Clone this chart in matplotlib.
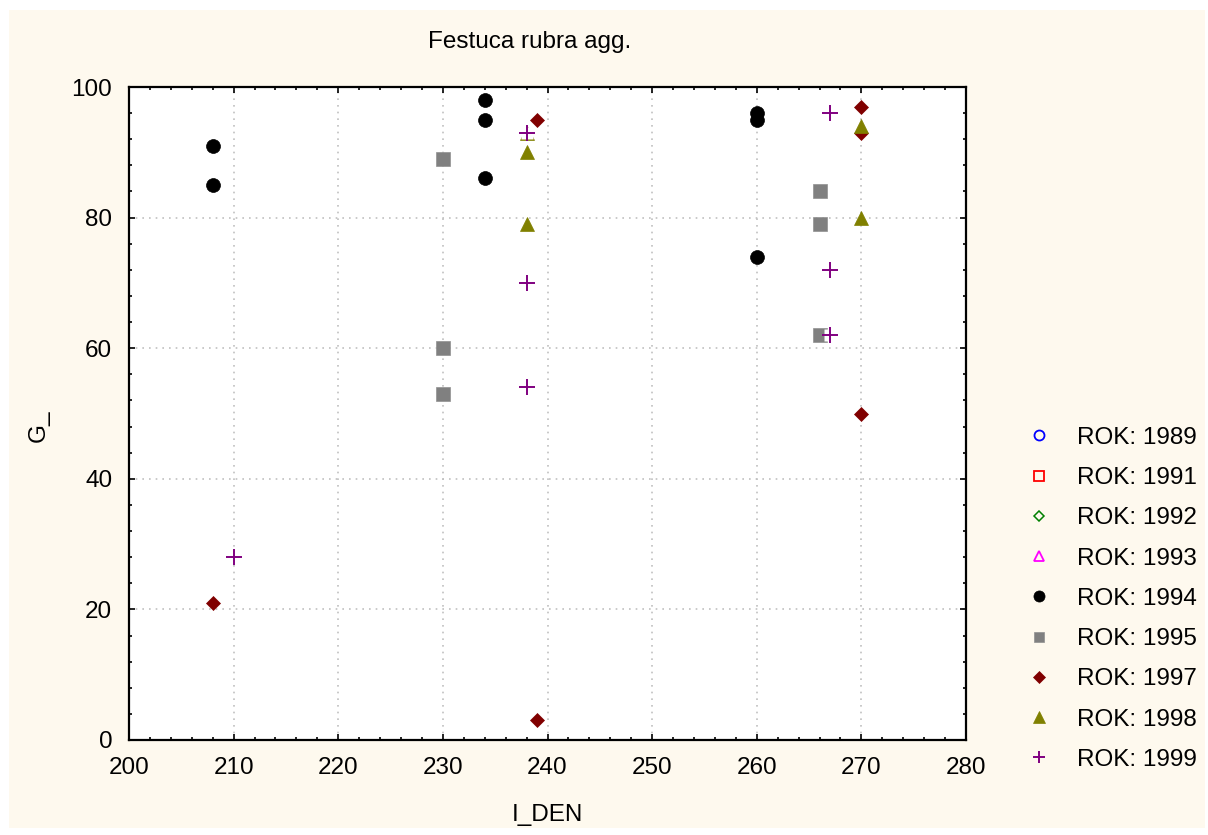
import matplotlib
matplotlib.use("Agg")
import matplotlib.pyplot as plt
from matplotlib.patches import Rectangle
from matplotlib.ticker import MultipleLocator

plt.rcParams['font.family'] = ['Liberation Sans', 'DejaVu Sans']

# Series: (I_DEN, G_) per year
x_1989, y_1989 = [], []
x_1991, y_1991 = [], []
x_1992, y_1992 = [], []
x_1993, y_1993 = [], []
x_1994 = [208, 208, 234, 234, 234, 260, 260, 260]
y_1994 = [91, 85, 98, 95, 86, 96, 95, 74]
x_1995 = [230, 230, 230, 266, 266, 266]
y_1995 = [89, 60, 53, 84, 79, 62]
x_1997 = [208, 239, 239, 270, 270, 270]
y_1997 = [21, 95, 3, 97, 93, 50]
x_1998 = [238, 238, 238, 270, 270]
y_1998 = [93, 90, 79, 94, 80]
x_1999 = [210, 238, 238, 238, 267, 267, 267]
y_1999 = [28, 93, 70, 54, 96, 72, 62]

years = ["1989", "1991", "1992", "1993", "1994", "1995", "1997", "1998", "1999"]
xs = [x_1989, x_1991, x_1992, x_1993, x_1994, x_1995, x_1997, x_1998, x_1999]
ys = [y_1989, y_1991, y_1992, y_1993, y_1994, y_1995, y_1997, y_1998, y_1999]

styles = [
    dict(marker='o', mfc='none', mec='#0000FF', ms=9, mew=1.3),
    dict(marker='s', mfc='none', mec='#FF0000', ms=9, mew=1.3),
    dict(marker='D', mfc='none', mec='#008000', ms=6.5, mew=1.1),
    dict(marker='^', mfc='none', mec='#FF00FF', ms=9, mew=1.3),
    dict(marker='o', mfc='#000000', mec='#000000', ms=10, mew=0.5),
    dict(marker='s', mfc='#808080', mec='#909090', ms=9.5, mew=0.5),
    dict(marker='D', mfc='#800000', mec='#800000', ms=7.5, mew=0.5),
    dict(marker='^', mfc='#808000', mec='#808000', ms=10, mew=0.5),
    dict(marker='+', mfc='#800080', mec='#800080', ms=11, mew=1.4),
]

FS = 17.5
W, H = 1208, 835
fig = plt.figure(figsize=(W / 100, H / 100), dpi=100, facecolor='white')
fig.patches.append(Rectangle((9 / W, 1 - 828 / H), (1205 - 9) / W, (828 - 10) / H,
                             transform=fig.transFigure, facecolor='#FEF9EE',
                             edgecolor='none', zorder=-10))

ax = fig.add_axes([129 / W, 1 - 740 / H, (966 - 129) / W, (740 - 87) / H])
ax.set_facecolor('white')

handles = []
for i, (yr, xv, yv, st) in enumerate(zip(years, xs, ys, styles)):
    if st['marker'] == '+':
        # plus markers sit on an opaque white cell
        ax.plot(xv, yv, linestyle='none', marker='s', mfc='white', mec='none',
                ms=9, clip_on=False, zorder=3 + i * 0.1)
    h, = ax.plot(xv, yv, linestyle='none', label=f"ROK: {yr}", clip_on=False,
                 zorder=3.05 + i * 0.1, **st)
    handles.append(h)

ax.set_xlim(200, 280)
ax.set_ylim(0, 100)
ax.xaxis.set_major_locator(MultipleLocator(10))
ax.xaxis.set_minor_locator(MultipleLocator(2))
ax.yaxis.set_major_locator(MultipleLocator(20))
ax.yaxis.set_minor_locator(MultipleLocator(4))
ax.tick_params(which='both', direction='in', top=True, right=True, width=1.2, color='black')
ax.tick_params(which='major', length=4, labelsize=FS)
ax.tick_params(which='minor', length=2.5)
ax.tick_params(axis='x', pad=12)
ax.tick_params(axis='y', pad=12)
ax.grid(True, which='major', color='#C0C0C0', linestyle=(0, (1, 3)), linewidth=1.2)
ax.set_axisbelow(True)
for sp in ax.spines.values():
    sp.set_linewidth(1.6)

ax.set_xlabel("I_DEN", fontsize=FS, labelpad=18)
ax.set_ylabel("G_", fontsize=FS)
ax.yaxis.set_label_coords(-0.095, 0.482)
fig.text(530 / W, 1 - 42 / H, "Festuca rubra agg.", fontsize=FS, ha='center', va='center')

fig.legend(handles=handles, loc='upper left', bbox_to_anchor=(1003 / W, 1 - 405 / H),
           frameon=False, fontsize=FS, labelspacing=0.75, handletextpad=0.96,
           markerscale=0.8, handlelength=1.2)

fig.savefig("out.png", dpi=100, facecolor=fig.get_facecolor())
